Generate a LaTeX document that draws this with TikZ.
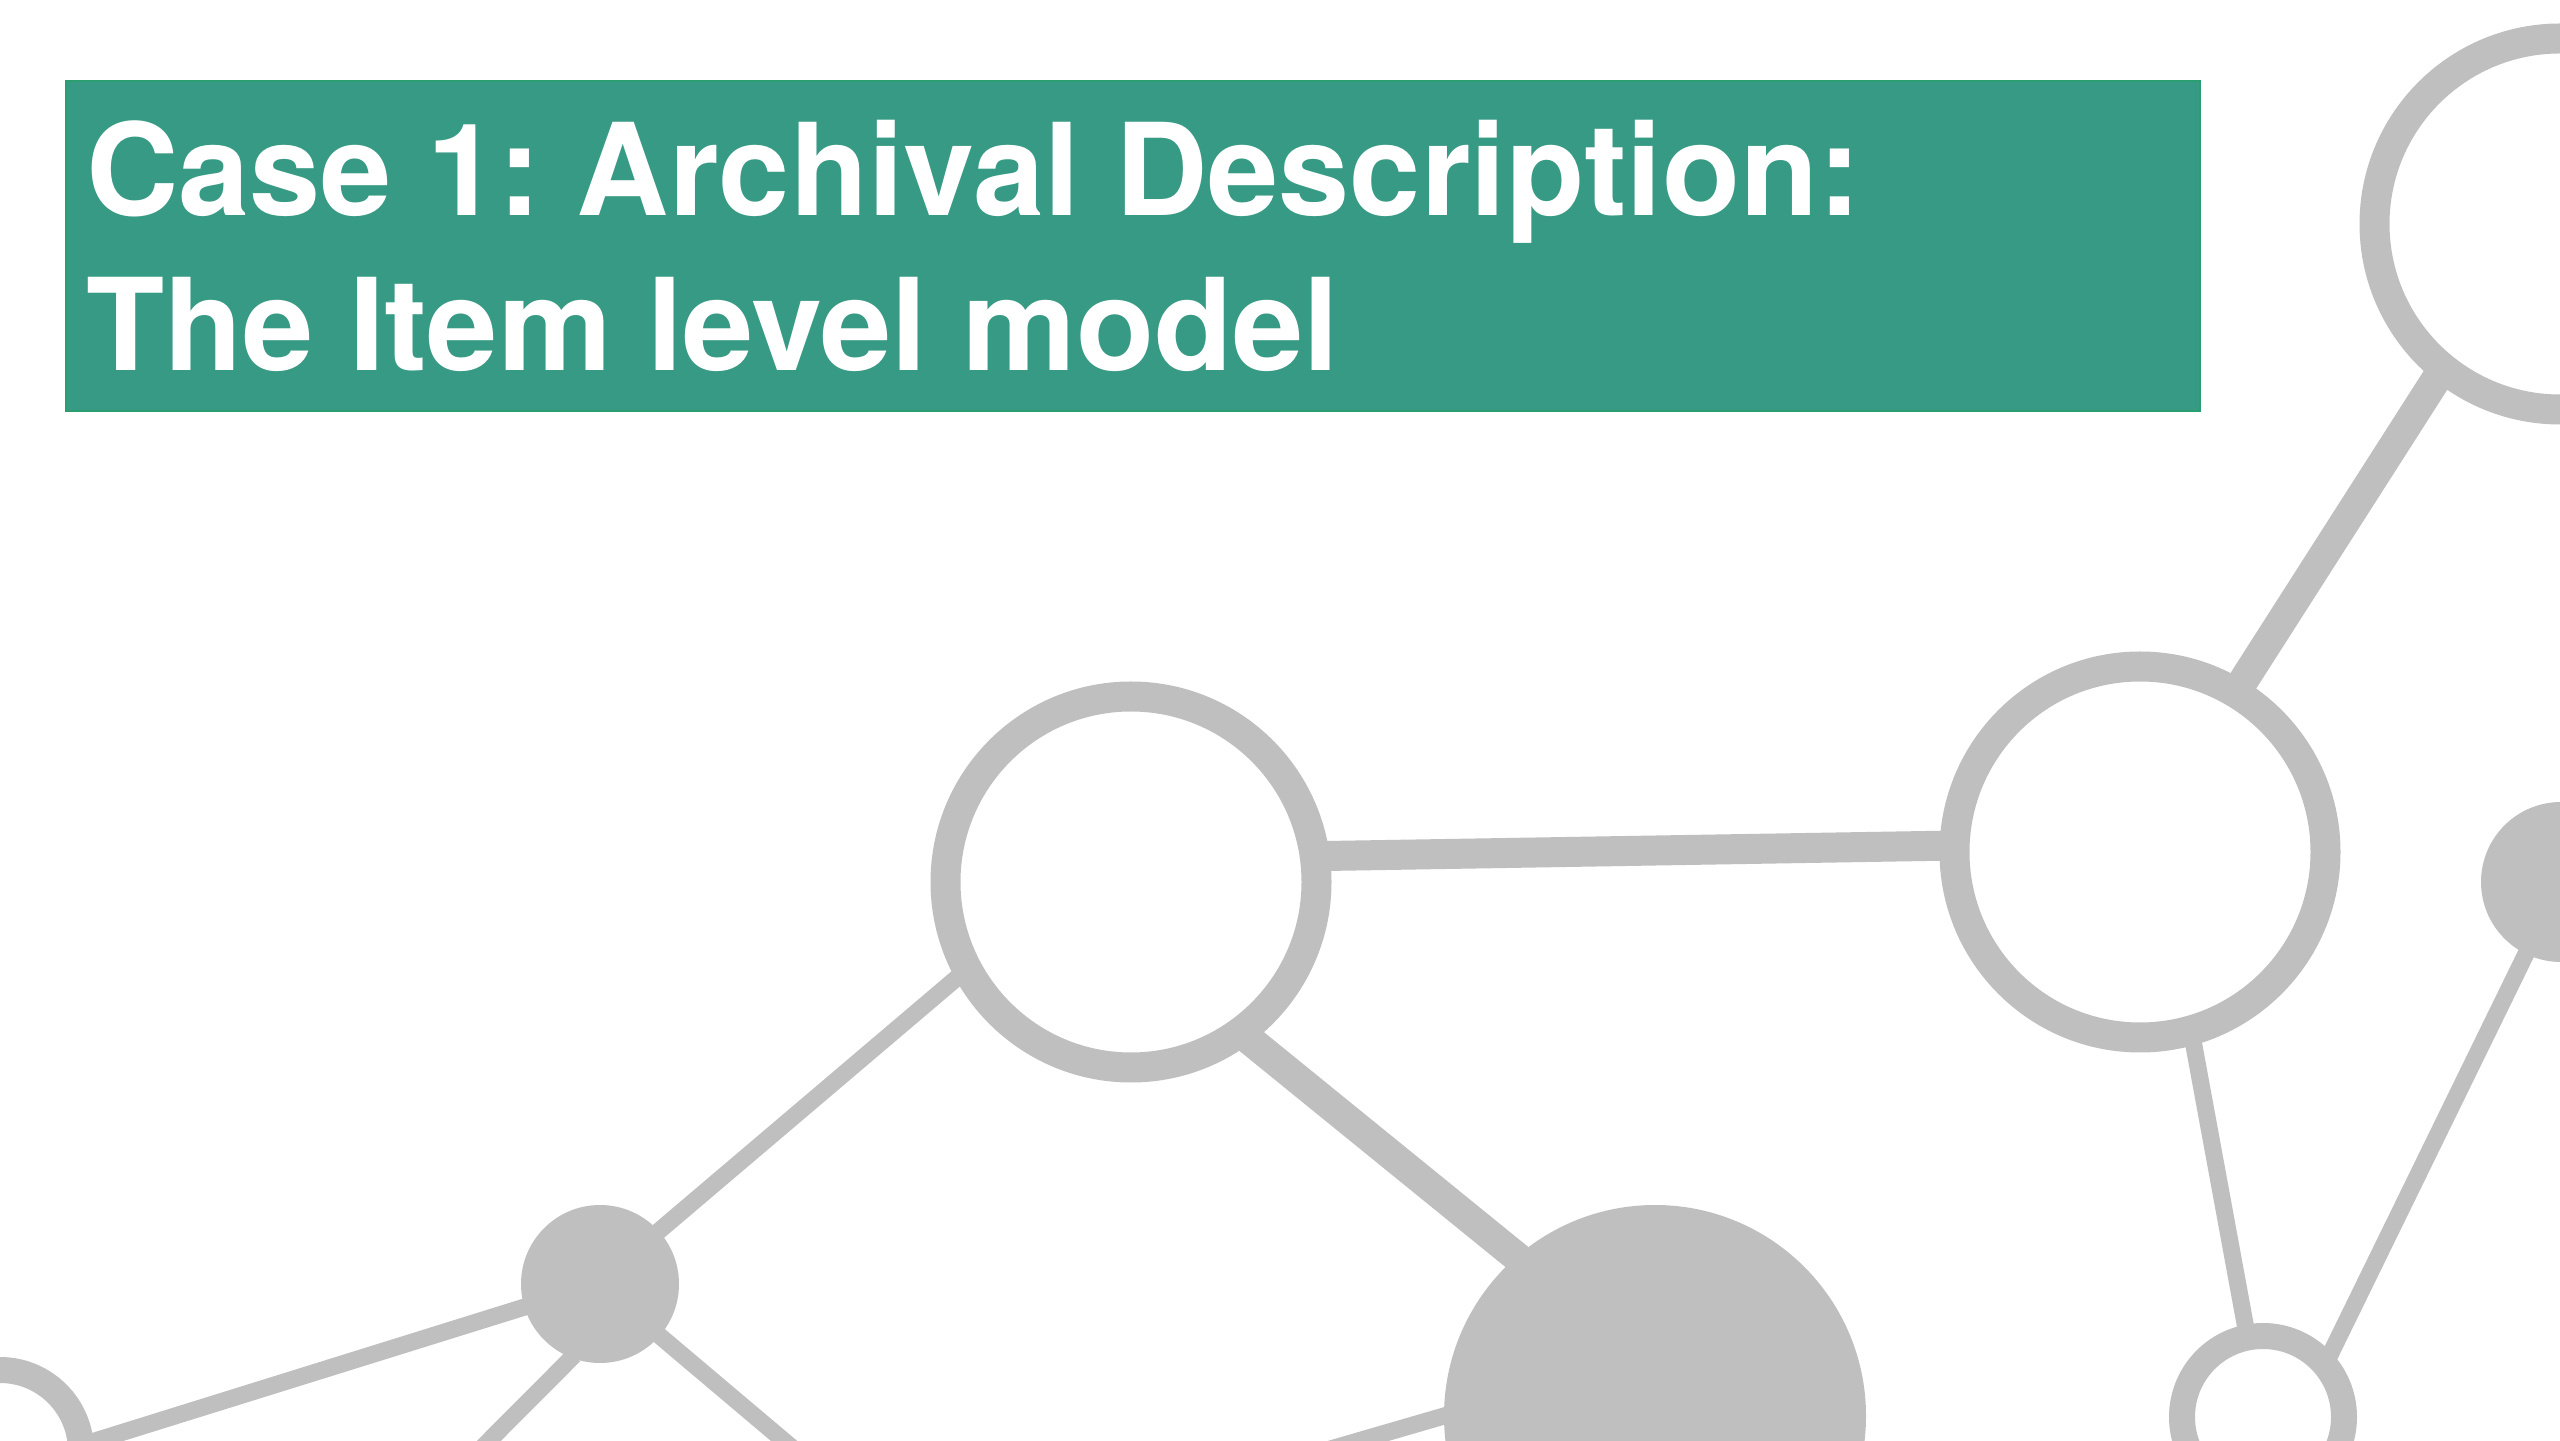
\documentclass[tikz,border=0pt]{standalone}
\usepackage{fontspec}
\setmainfont{TeX Gyre Heros}
\definecolor{netgray}{RGB}{191,191,191}
\definecolor{titlegreen}{RGB}{55,154,132}
\definecolor{titleedge}{RGB}{42,158,112}

\begin{document}
\frenchspacing
\begin{tikzpicture}[
	bigring/.style={circle, draw=netgray, line width=0.30cm, fill=white, minimum size=3.71cm, inner sep=0pt, outer sep=0pt},
	smallring/.style={circle, draw=netgray, line width=0.26cm, fill=white, minimum size=1.62cm, inner sep=0pt, outer sep=0pt},
	filleddot/.style={circle, fill=netgray, minimum size=#1, inner sep=0pt, outer sep=0pt},
	thickedge/.style={netgray, line width=0.30cm, shorten <=-1pt, shorten >=-1pt},
	thinedge/.style={netgray, line width=0.17cm, shorten <=-1pt, shorten >=-1pt},
	titletext/.style={text=white, font=\fontsize{36.4}{44}\selectfont\bfseries, inner sep=0pt, anchor=base west}]
	\path[use as bounding box, fill=white] (0,0) rectangle (25.6,14.4);
	\filldraw[fill=titlegreen, draw=titleedge, line width=0.02cm] (0.66,10.29) rectangle (22.00,13.59);
	\node[titletext] (title1) at (0.855,12.24) {Case 1: Archival Description:};
	\node[titletext] (title2) at ([yshift=-1.546cm]title1.base west) {The Item level model};

	\node[bigring] (hubtop) at (25.60,12.16) {};
	\node[bigring] (hubright) at (21.40,5.88) {};
	\node[bigring] (hubleft) at (11.31,5.58) {};
	\node[smallring] (leafright) at (22.63,0.23) {};
	\node[smallring] (leafleft) at (0,-0.11) {};
	\node[filleddot=1.58cm] (joint) at (6.00,1.56) {};
	\node[filleddot=1.60cm] (edgedot) at (25.61,5.58) {};
	\node[filleddot=4.22cm] (bigdot) at (16.55,0.24) {};
	\coordinate (outa) at (4.30,-0.60);
	\coordinate (outb) at (8.54,-0.60);
	\coordinate (outc) at (11.55,-0.60);

	\draw[thickedge] (hubright.59) -- (hubtop.231);
	\draw[thickedge] (hubleft.8) -- (hubright.178);
	\draw[thickedge] (hubleft.-54) -- (bigdot.131);
	\draw[thinedge] (joint.42) -- (hubleft.208);
	\draw[thinedge] (joint.197) -- (leafleft.4);
	\draw[thinedge] (joint.249) -- (outa);
	\draw[thinedge] (joint.-41) -- (outb);
	\draw[thinedge] (bigdot.180) -- (outc);
	\draw[thinedge] (hubright.-74) -- (leafright.101);
	\draw[thinedge] (leafright.40) -- (edgedot.244);
\end{tikzpicture}
\end{document}
